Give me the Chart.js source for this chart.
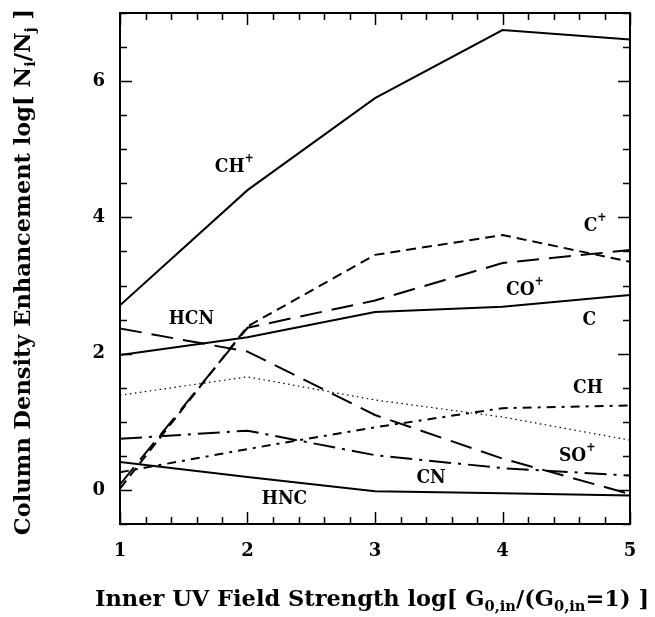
<!DOCTYPE html>
<html>
<head>
<meta charset="utf-8">
<script src="https://cdn.jsdelivr.net/npm/chart.js@4"></script>
<style>
    html, body { margin: 0; padding: 0; background: #fff; }
    #wrap { width: 655px; height: 617px; }
</style>
</head>
<body>
<div id="wrap"><canvas id="chart" width="655" height="617"></canvas></div>
<script>
// x values: log of inner UV field strength
const fieldStrength = [1, 2, 3, 4, 5];

// column density enhancement log[Ni/Nj]
const chPlus   = [2.71, 4.40, 5.75, 6.75, 6.61];
const cPlus    = [0.02, 2.40, 3.45, 3.74, 3.35];
const coPlus   = [0.08, 2.38, 2.78, 3.33, 3.52];
const carbon   = [1.98, 2.24, 2.61, 2.69, 2.86];
const hcn      = [2.37, 2.03, 1.10, 0.46, -0.06];
const chDotted = [1.39, 1.66, 1.32, 1.07, 0.73];
const soPlus   = [0.75, 0.87, 0.51, 0.32, 0.21];
const cnLine   = [0.26, 0.60, 0.92, 1.20, 1.24];
const hnc      = [0.41, 0.19, -0.02, -0.05, -0.08];

const xTicks = [1, 2, 3, 4, 5];
const yTicks = [0, 2, 4, 6];

// in-plot species labels (text, superscript, data position)
const labelText = ['CH', 'C', 'CO', 'C', 'HCN', 'CH', 'SO', 'CN', 'HNC'];
const labelSup  = ['+', '+', '+', '', '', '', '+', '', ''];
const labelX    = [1.86, 4.69, 4.14, 4.68, 1.56, 4.67, 4.55, 3.44, 2.29];
const labelY    = [4.74, 3.87, 2.93, 2.49, 2.51, 1.49, 0.49, 0.17, -0.14];

const SERIF = '"DejaVu Serif", "Liberation Serif", serif';
const LABEL_FONT = '"DejaVu Serif Condensed", "DejaVu Serif", serif';

function pts(ys) {
    return fieldStrength.map((x, i) => ({ x, y: ys[i] }));
}

function line(label, ys, dash, width) {
    return {
        label,
        data: pts(ys),
        borderColor: '#000',
        borderWidth: width || 2,
        borderDash: dash || [],
        pointRadius: 0,
        tension: 0,
        fill: false
    };
}

// draw a string made of runs with optional sub/superscripts
function richText(ctx, runs, x, y, size, family, weight) {
    let cx = x;
    runs.forEach(r => {
        const s = r.sub || r.sup ? size * 0.65 : size;
        ctx.font = weight + ' ' + s + 'px ' + family;
        const dy = r.sub ? size * 0.3 : (r.sup ? -size * 0.45 : 0);
        ctx.fillText(r.t, cx, y + dy);
        cx += ctx.measureText(r.t).width;
    });
    return cx - x;
}

function richWidth(ctx, runs, size, family, weight) {
    let w = 0;
    runs.forEach(r => {
        const s = r.sub || r.sup ? size * 0.65 : size;
        ctx.font = weight + ' ' + s + 'px ' + family;
        w += ctx.measureText(r.t).width;
    });
    return w;
}

const framePlugin = {
    id: 'frame',
    afterDatasetsDraw(chart) {
        const { ctx, chartArea: a, scales } = chart;
        const xs = scales.x, ys = scales.y;
        ctx.save();
        ctx.strokeStyle = '#000';
        ctx.lineWidth = 2;
        ctx.strokeRect(a.left, a.top, a.right - a.left, a.bottom - a.top);

        // inward ticks on all four sides
        ctx.lineWidth = 1.5;
        ctx.beginPath();
        for (let v = 1; v <= 5.001; v += 0.2) {
            const major = Math.abs(v - Math.round(v)) < 1e-6;
            const len = major ? 12 : 7;
            const px = Math.round(xs.getPixelForValue(v)) + 0.5;
            ctx.moveTo(px, a.bottom); ctx.lineTo(px, a.bottom - len);
            ctx.moveTo(px, a.top); ctx.lineTo(px, a.top + len);
        }
        for (let v = -0.5; v <= 7.001; v += 0.5) {
            const major = Math.abs(v % 2) < 1e-6;
            const len = major ? 12 : 7;
            const py = Math.round(ys.getPixelForValue(v)) + 0.5;
            ctx.moveTo(a.left, py); ctx.lineTo(a.left + len, py);
            ctx.moveTo(a.right, py); ctx.lineTo(a.right - len, py);
        }
        ctx.stroke();

        // species labels
        ctx.fillStyle = '#000';
        ctx.textBaseline = 'middle';
        ctx.textAlign = 'left';
        labelText.forEach((t, i) => {
            const runs = [{ t }];
            if (labelSup[i]) runs.push({ t: labelSup[i], sup: true });
            const w = richWidth(ctx, [{ t }], 19, LABEL_FONT, 'bold');
            const px = xs.getPixelForValue(labelX[i]) - w / 2;
            const py = ys.getPixelForValue(labelY[i]);
            richText(ctx, runs, px, py, 19, LABEL_FONT, 'bold');
        });

        // axis titles
        const xTitle = [
            { t: 'Inner UV Field Strength log[ G' }, { t: '0,in', sub: true },
            { t: '/(G' }, { t: '0,in', sub: true }, { t: '=1) ]' }
        ];
        const xw = richWidth(ctx, xTitle, 22.5, SERIF, 'bold');
        richText(ctx, xTitle, 372 - xw / 2, 600, 22.5, SERIF, 'bold');

        const yTitle = [
            { t: 'Column Density Enhancement log[ N' }, { t: 'i', sub: true },
            { t: '/N' }, { t: 'j', sub: true }, { t: ' ]' }
        ];
        const yw = richWidth(ctx, yTitle, 22.5, SERIF, 'bold');
        ctx.translate(24, 272);
        ctx.rotate(-Math.PI / 2);
        richText(ctx, yTitle, -yw / 2, 0, 22.5, SERIF, 'bold');
        ctx.restore();
    }
};

const ctx = document.getElementById('chart').getContext('2d');
new Chart(ctx, {
    type: 'line',
    data: {
        datasets: [
            line('CH+', chPlus),
            line('C+', cPlus, [10, 6]),
            line('CO+', coPlus, [22, 10]),
            line('C', carbon),
            line('HCN', hcn, [22, 10]),
            line('CH', chDotted, [1.5, 3.5], 1.2),
            line('SO+', soPlus, [22, 7, 3, 7]),
            line('CN', cnLine, [9, 6, 3, 6]),
            line('HNC', hnc)
        ]
    },
    options: {
        responsive: false,
        animation: false,
        layout: { padding: { top: 13, right: 25, left: 0, bottom: 0 } },
        plugins: {
            legend: { display: false },
            tooltip: { enabled: false }
        },
        scales: {
            x: {
                type: 'linear',
                min: 1,
                max: 5,
                grid: { display: false, drawTicks: false },
                border: { display: false },
                afterBuildTicks: s => { s.ticks = xTicks.map(v => ({ value: v })); },
                afterFit: s => { s.height = 93; s.paddingLeft = 0; s.paddingRight = 0; },
                ticks: {
                    padding: 17,
                    color: '#000',
                    font: { family: SERIF, size: 18, weight: 'bold' }
                }
            },
            y: {
                type: 'linear',
                min: -0.5,
                max: 7,
                grid: { display: false, drawTicks: false },
                border: { display: false },
                afterBuildTicks: s => { s.ticks = yTicks.map(v => ({ value: v })); },
                afterFit: s => { s.width = 120; s.paddingTop = 0; s.paddingBottom = 0; },
                ticks: {
                    padding: 15,
                    color: '#000',
                    font: { family: SERIF, size: 18, weight: 'bold' }
                }
            }
        }
    },
    plugins: [framePlugin]
});
</script>
</body>
</html>
